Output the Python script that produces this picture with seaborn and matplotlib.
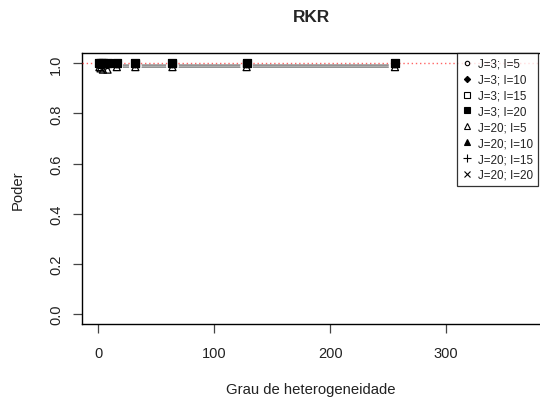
import matplotlib
matplotlib.use("Agg")
import matplotlib.pyplot as plt
import seaborn as sns
import pandas as pd
import numpy as np

sns.set_style("white")
plt.rcParams['font.family'] = ['Liberation Sans', 'DejaVu Sans']

# ---- data ----
x_vals = [1, 2, 4, 8, 16, 32, 64, 128, 256]
series_names = ["J=3; I=5", "J=3; I=10", "J=3; I=15", "J=3; I=20",
                "J=20; I=5", "J=20; I=10", "J=20; I=15", "J=20; I=20"]
s_j3_i5   = [0.990, 0.990, 0.990, 0.990, 0.993, 0.993, 0.993, 0.993, 0.993]
s_j3_i10  = [1.0, 1.0, 1.0, 1.0, 1.0, 1.0, 1.0, 1.0, 1.0]
s_j3_i15  = [1.0, 1.0, 1.0, 1.0, 1.0, 1.0, 1.0, 1.0, 1.0]
s_j3_i20  = [1.0, 1.0, 1.0, 1.0, 1.0, 1.0, 1.0, 1.0, 1.0]
s_j20_i5  = [0.985, 0.980, 0.975, 0.975, 0.985, 0.985, 0.985, 0.985, 0.985]
s_j20_i10 = [1.0, 1.0, 1.0, 1.0, 1.0, 1.0, 1.0, 1.0, 1.0]
s_j20_i15 = [1.0, 1.0, 1.0, 1.0, 1.0, 1.0, 1.0, 1.0, 1.0]
s_j20_i20 = [1.0, 1.0, 1.0, 1.0, 1.0, 1.0, 1.0, 1.0, 1.0]
series_vals = [s_j3_i5, s_j3_i10, s_j3_i15, s_j3_i20,
               s_j20_i5, s_j20_i10, s_j20_i15, s_j20_i20]
ref_level = 1.0
x_ticks = [0, 100, 200, 300]
y_ticks = [0.0, 0.2, 0.4, 0.6, 0.8, 1.0]
title = "RKR"
xlabel = "Grau de heterogeneidade"
ylabel = "Poder"

# ---- styles ----
marker_styles = [
    dict(marker="o", facecolor="none", s=14),
    dict(marker="D", facecolor="black", s=14),
    dict(marker="s", facecolor="none", s=22),
    dict(marker="s", facecolor="black", s=30),
    dict(marker="^", facecolor="none", s=26),
    dict(marker="^", facecolor="black", s=26),
    dict(marker="+", facecolor="black", s=40),
    dict(marker="x", facecolor="black", s=30),
]

W, H = 540, 402
fig = plt.figure(figsize=(W / 100, H / 100), dpi=100)
left_px, right_px, top_px, bot_px = 81.7, 546, 54.3, 325
ax = fig.add_axes([left_px / W, 1 - bot_px / H, (right_px - left_px) / W, (bot_px - top_px) / H])

rows = []
for name, vals in zip(series_names, series_vals):
    for xv, yv in zip(x_vals, vals):
        rows.append(dict(series=name, x=xv, y=yv))
df = pd.DataFrame(rows)

# lines for series that drop below the reference level
for name, vals in zip(series_names, series_vals):
    if any(v < ref_level for v in vals):
        sub = df[df.series == name]
        sns.lineplot(data=sub, x="x", y="y", ax=ax, color="#6a6a6a", lw=0.9,
                     zorder=2, legend=False, estimator=None)
        sns.scatterplot(data=sub, x="x", y="y", ax=ax, marker="o", s=80,
                        color="white", edgecolor="none", zorder=2.5, legend=False)

ax.axhline(ref_level, color="#ff3030", ls=(0, (1, 2)), lw=1.0, zorder=3, alpha=0.75)

handles = []
for name, st in zip(series_names, marker_styles):
    sub = df[df.series == name]
    m = st["marker"]
    if m in ("+", "x"):
        sns.scatterplot(data=sub, x="x", y="y", ax=ax, marker=m, s=st["s"],
                        color="black", linewidth=1.0, zorder=4, legend=False)
    else:
        sns.scatterplot(data=sub, x="x", y="y", ax=ax, marker=m, s=st["s"],
                        facecolor=st["facecolor"], edgecolor="black",
                        linewidth=0.9, zorder=4, legend=False)
    handles.append(plt.Line2D([], [], ls="none", marker=m,
                              markersize=np.sqrt(st["s"]) * 0.85,
                              markerfacecolor=st["facecolor"] if m not in ("+", "x") else "black",
                              markeredgecolor="black", markeredgewidth=0.8,
                              label=name))

ax.set_xlim(-14.3, -14.3 + (right_px - left_px) / 1.159)
ax.set_ylim(-0.04, 1.04)
ax.set_xticks(x_ticks)
ax.set_yticks(y_ticks)
ax.set_xticklabels([str(t) for t in x_ticks])
ax.set_yticklabels([f"{t:.1f}" for t in y_ticks], rotation=90, va="center")
ax.tick_params(axis="both", direction="out", length=6.5, width=0.9,
               color="#444444", labelsize=10.5, labelcolor="#222222", bottom=True, left=True)
ax.tick_params(axis="x", pad=9)
ax.tick_params(axis="y", pad=7)
for sp in ax.spines.values():
    sp.set_color("black")
    sp.set_linewidth(1.0)

ax.set_xlabel("")
ax.set_ylabel("")
fig.text(311 / W, 1 - 390 / H, xlabel, ha="center", va="center", fontsize=10.7, color="#222222")
fig.text(18 / W, 1 - 190 / H, ylabel, ha="center", va="center", rotation=90, fontsize=10.7, color="#222222")
fig.text(311 / W, 1 - 17 / H, title, ha="center", va="center", fontsize=12.4, fontweight="bold")

leg = fig.legend(handles=handles, loc="upper left",
                 bbox_to_anchor=(457 / W, 1 - 54.3 / H), borderaxespad=0,
                 frameon=True, fancybox=False, fontsize=8.4, labelspacing=0.33,
                 handlelength=0.9, handletextpad=0.5, borderpad=0.4,
                 labelcolor="#222222")
leg.get_frame().set_edgecolor("black")
leg.get_frame().set_linewidth(0.9)

fig.savefig("out.png", dpi=100)
